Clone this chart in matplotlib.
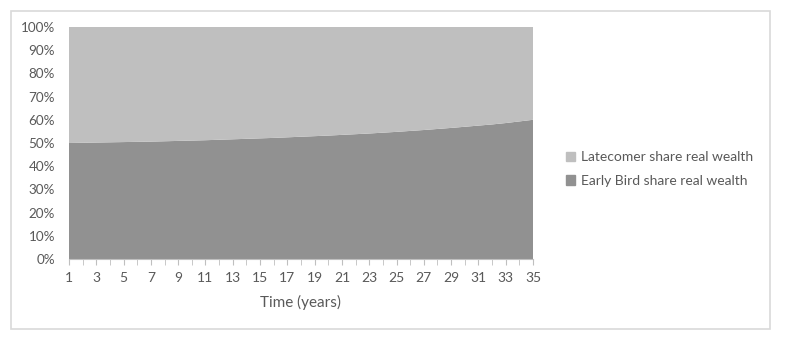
import matplotlib
matplotlib.use("Agg")
import matplotlib.pyplot as plt
from matplotlib.patches import Rectangle, Patch
from matplotlib.ticker import PercentFormatter, MultipleLocator

years = list(range(1, 36))
early_share = [50.0, 50.1, 50.2, 50.3, 50.4, 50.5, 50.6, 50.75, 50.9, 51.05,
               51.2, 51.4, 51.6, 51.8, 52.0, 52.2, 52.45, 52.7, 52.95, 53.2,
               53.5, 53.8, 54.1, 54.45, 54.8, 55.2, 55.6, 56.05, 56.5, 57.0,
               57.5, 58.0, 58.6, 59.3, 60.0]
late_share = [100 - v for v in early_share]
series_names = ["Early Bird share real wealth", "Latecomer share real wealth"]
x_label = "Time (years)"

c_early = "#919191"
c_late = "#bfbfbf"
txt = "#595959"

plt.rcParams['font.family'] = ['Lato', 'DejaVu Sans']

fig = plt.figure(figsize=(7.9, 3.4), dpi=100)
fig.patches.append(Rectangle((10.5 / 790, 1 - 329 / 340), (770 - 10.5) / 790, (329 - 10.5) / 340,
                             transform=fig.transFigure, fill=False, edgecolor="#d9d9d9", lw=1.2))

ax = fig.add_axes([69 / 790, 1 - 259 / 340, (533 - 69) / 790, (259 - 27) / 340])
ax.stackplot(years, early_share, late_share, colors=[c_early, c_late], linewidth=0)
ax.set_xlim(1, 35)
ax.set_ylim(0, 100)
ax.yaxis.set_major_locator(MultipleLocator(10))
ax.yaxis.set_major_formatter(PercentFormatter(decimals=0))
ax.set_xticks(years[::2])
ax.set_xticks(years, minor=True)
for s in ["top", "right", "left"]:
    ax.spines[s].set_visible(False)
ax.spines["bottom"].set_color("#bfbfbf")
ax.tick_params(axis="y", length=0, labelsize=9.7, labelcolor=txt, pad=10)
ax.tick_params(axis="x", which="both", length=4, color="#bfbfbf", labelsize=10, labelcolor=txt, pad=5)
ax.set_xlabel(x_label, fontsize=11, color=txt, labelpad=8)

handles = [Patch(color=c_late), Patch(color=c_early)]
fig.legend(handles, [series_names[1], series_names[0]], loc="center left",
           bbox_to_anchor=(553 / 790, 1 - 169 / 340), frameon=False, fontsize=10,
           labelcolor=txt, handlelength=0.7, handleheight=0.7, handletextpad=0.4,
           labelspacing=0.8)

fig.savefig("out.png", dpi=100)
